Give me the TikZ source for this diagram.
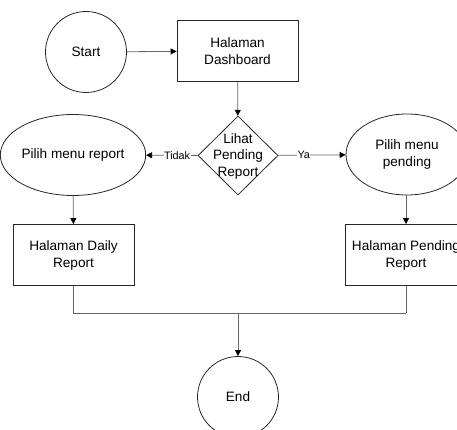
\documentclass[tikz,border=0pt]{standalone}
\usepackage{fontspec}
\setmainfont{Liberation Sans}
\usetikzlibrary{shapes.geometric,arrows.meta}
\begin{document}
\begin{tikzpicture}[x=1pt,y=-1pt,
  base/.style={draw=black!85, line width=0.8pt, inner sep=0pt, align=center, font=\fontsize{13.6}{17}\selectfont},
  term/.style={base, circle, minimum size=81pt},
  proc/.style={base, rectangle, minimum width=121pt, minimum height=61pt},
  ell/.style={base, ellipse, minimum width=122pt, minimum height=81pt},
  dec/.style={base, diamond, minimum width=80pt, minimum height=79pt},
  dectext/.style={inner sep=0pt, align=center, font=\fontsize{13.6}{16.5}\selectfont},
  conn/.style={draw=black!60, line width=0.8pt, -{Triangle[length=6pt,width=6pt,fill=black,color=black]}},
  line/.style={draw=black!60, line width=0.8pt},
  lbl/.style={fill=white, inner sep=0.5pt, font=\fontsize{10.8}{12}\selectfont}]
\useasboundingbox (0,0) rectangle (457,430);
\clip (0,0) rectangle (457,430);
\node[term] (start) at (86,52) {Start};
\node[proc] (dash) at (237.5,51) {Halaman\\Dashboard};
\node[dec] (lihat) at (238,155.5) {};
\node[dectext] (lihattxt) at (238,156) {Lihat\\Pending\\Report};
\node[ell] (pr) at (73,155) {Pilih menu report};
\node[ell] (pp) at (407,154.5) {Pilih menu\\pending};
\node[proc] (daily) at (73.5,255) {Halaman Daily\\Report};
\node[proc] (pend) at (406,255) {Halaman Pending\\Report};
\node[term] (end) at (238,397) {End};
\coordinate (jl) at (73.5,313);
\coordinate (jr) at (406,313);
\coordinate (jm) at (238,313);
\draw[conn] (start) -- (dash);
\draw[conn] (dash) -- (lihat);
\draw[conn] (lihat) -- node[lbl, pos=0.4] {Tidak} (pr);
\draw[conn] (lihat) -- node[lbl, pos=0.38] {Ya} (pp);
\draw[conn] (pr) -- (daily);
\draw[conn] (pp.south -| pend.north) -- (pend);
\draw[line] (daily) -- (jl) -- (jr) -- (pend.south |- jr);
\draw[line] (pend.south) -- (jr);
\draw[conn] (jm) -- (end);
\end{tikzpicture}
\end{document}
